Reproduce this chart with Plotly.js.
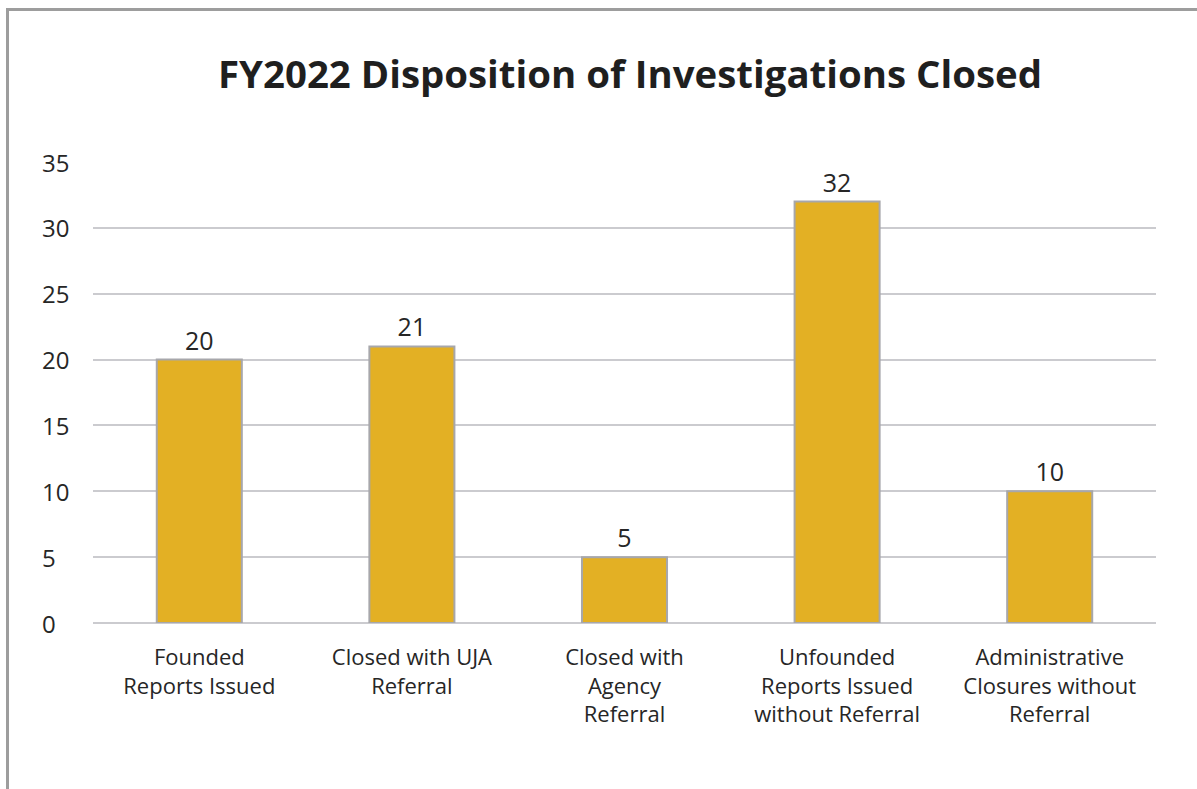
<!DOCTYPE html>
<html>
<head>
<meta charset="utf-8">
<script src="https://cdn.plot.ly/plotly-3.0.1.min.js"></script>
<style>
  html, body { margin: 0; padding: 0; background: #ffffff; }
  #wrap { position: relative; width: 1197px; height: 789px; overflow: hidden; }
  #chart { position: absolute; left: 0; top: 0; width: 1197px; height: 789px; }
  #frame { position: absolute; left: 6px; top: 8px; width: 1300px; height: 900px;
           border-left: 3px solid #9d9d9d; border-top: 3px solid #9d9d9d; pointer-events: none; }
</style>
</head>
<body>
<div id="wrap">
  <div id="chart"></div>
  <div id="frame"></div>
</div>
<script>
const categories = [
  "Founded<br>Reports Issued",
  "Closed with UJA<br>Referral",
  "Closed with<br>Agency<br>Referral",
  "Unfounded<br>Reports Issued<br>without Referral",
  "Administrative<br>Closures without<br>Referral"
];
const values = [20, 21, 5, 32, 10];
const yTickValues = [0, 5, 10, 15, 20, 25, 30, 35];
const titleText = "FY2022 Disposition of Investigations Closed";

const FONT = "'Open Sans', 'Noto Sans', sans-serif";
const W = 1197, H = 789;
const margin = { l: 93, r: 41, t: 162, b: 166 };
const plotW = W - margin.l - margin.r;

const trace = {
  type: "bar",
  x: categories,
  y: values,
  width: 0.4,
  marker: { color: "#E3B024", line: { color: "#A7A7AB", width: 2 } },
  text: values.map(String),
  textposition: "outside",
  cliponaxis: false,
  textfont: { family: FONT, size: 25, color: "#262626" },
  hoverinfo: "x+y"
};

const tickAnnotations = yTickValues.map(v => ({
  xref: "paper", yref: "y",
  x: (40 - margin.l) / plotW, y: v,
  xanchor: "left", yanchor: "middle",
  text: String(v), showarrow: false,
  font: { family: FONT, size: 24, color: "#262626" }
}));

const layout = {
  width: W, height: H,
  margin: margin,
  paper_bgcolor: "#ffffff",
  plot_bgcolor: "#ffffff",
  title: {
    text: "<b>" + titleText + "</b>",
    font: { family: FONT, size: 38.4, color: "#1f1f1f" },
    x: 630 / W, xanchor: "center", xref: "container",
    y: 1 - 75 / H, yanchor: "middle", yref: "container"
  },
  showlegend: false,
  xaxis: {
    type: "category",
    showgrid: false,
    showline: false,
    zeroline: false,
    ticks: "",
    ticklabelstandoff: 19,
    tickfont: { family: FONT, size: 22, color: "#262626" },
    fixedrange: true
  },
  yaxis: {
    range: [0, 35],
    tickvals: yTickValues,
    showticklabels: false,
    showgrid: true,
    gridcolor: "#CBCBCF",
    gridwidth: 2,
    zeroline: true,
    zerolinecolor: "#CBCBCF",
    zerolinewidth: 2,
    showline: false,
    ticks: "",
    fixedrange: true
  },
  annotations: tickAnnotations
};

Plotly.newPlot("chart", [trace], layout, { displayModeBar: false, staticPlot: true });
</script>
</body>
</html>
